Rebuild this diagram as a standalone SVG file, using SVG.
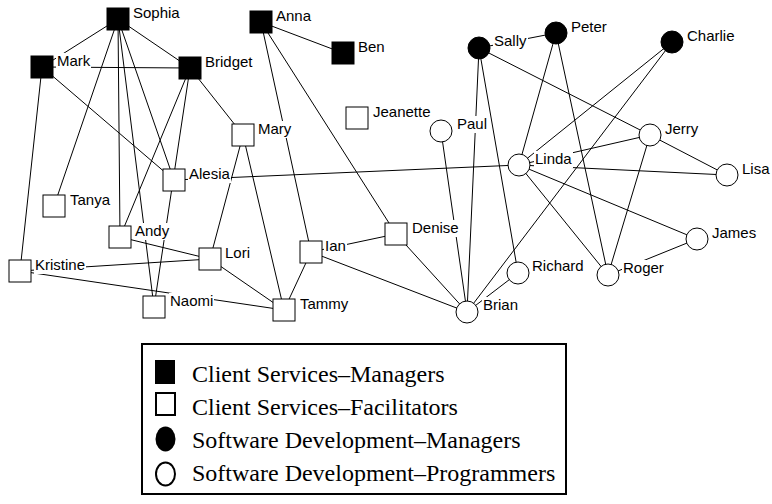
<svg xmlns="http://www.w3.org/2000/svg" width="772" height="504" viewBox="0 0 772 504">
<style>
.e{stroke:#000;stroke-width:1;fill:none}
.sq{fill:#fff;stroke:#000;stroke-width:1}
.sqf{fill:#000;stroke:#000;stroke-width:1}
.ci{fill:#fff;stroke:#000;stroke-width:1}
.cif{fill:#000;stroke:#000;stroke-width:1}
.lb{fill:#fff}
.t{font-family:"Liberation Sans",Arial,sans-serif;font-size:15px;fill:#000}
.lg{font-family:"Liberation Serif","Times New Roman",serif;font-size:24px;fill:#000}
</style>
<rect width="772" height="504" fill="#fff"/>
<g id="edges" class="e">
<line x1="118" y1="19" x2="42" y2="67"/>
<line x1="118" y1="19" x2="190" y2="68"/>
<line x1="118" y1="19" x2="54" y2="206"/>
<line x1="118" y1="19" x2="120" y2="237"/>
<line x1="118" y1="19" x2="154" y2="307"/>
<line x1="118" y1="19" x2="174" y2="180"/>
<line x1="42" y1="67" x2="190" y2="68"/>
<line x1="42" y1="67" x2="20" y2="271"/>
<line x1="42" y1="67" x2="174" y2="180"/>
<line x1="190" y1="68" x2="243" y2="135"/>
<line x1="190" y1="68" x2="120" y2="237"/>
<line x1="190" y1="68" x2="154" y2="307"/>
<line x1="174" y1="180" x2="519" y2="165"/>
<line x1="243" y1="135" x2="210" y2="259"/>
<line x1="243" y1="135" x2="284" y2="310"/>
<line x1="261" y1="22" x2="343" y2="53"/>
<line x1="261" y1="22" x2="311" y2="252"/>
<line x1="261" y1="22" x2="396" y2="234"/>
<line x1="311" y1="252" x2="396" y2="234"/>
<line x1="311" y1="252" x2="284" y2="310"/>
<line x1="311" y1="252" x2="467" y2="312"/>
<line x1="396" y1="234" x2="467" y2="312"/>
<line x1="210" y1="259" x2="284" y2="310"/>
<line x1="210" y1="259" x2="20" y2="271"/>
<line x1="210" y1="259" x2="120" y2="237"/>
<line x1="20" y1="271" x2="284" y2="310"/>
<line x1="479" y1="48" x2="556" y2="33"/>
<line x1="479" y1="48" x2="650" y2="135"/>
<line x1="479" y1="48" x2="467" y2="312"/>
<line x1="479" y1="48" x2="518" y2="273"/>
<line x1="441" y1="131" x2="467" y2="312"/>
<line x1="556" y1="33" x2="519" y2="165"/>
<line x1="556" y1="33" x2="608" y2="275"/>
<line x1="672" y1="42" x2="519" y2="165"/>
<line x1="672" y1="42" x2="467" y2="312"/>
<line x1="650" y1="135" x2="727" y2="175"/>
<line x1="650" y1="135" x2="519" y2="165"/>
<line x1="650" y1="135" x2="608" y2="275"/>
<line x1="519" y1="165" x2="727" y2="175"/>
<line x1="519" y1="165" x2="608" y2="275"/>
<line x1="519" y1="165" x2="697" y2="239"/>
<line x1="697" y1="239" x2="608" y2="275"/>
<line x1="518" y1="273" x2="467" y2="312"/>
</g>
<g id="sophia"><rect class="sqf" x="107" y="8" width="22" height="22"/><rect class="lb" x="132" y="5" width="49" height="17"/><text class="t" x="133" y="18">Sophia</text></g>
<g id="mark"><rect class="sqf" x="31" y="56" width="22" height="22"/><rect class="lb" x="56" y="53" width="35" height="17"/><text class="t" x="57" y="66">Mark</text></g>
<g id="bridget"><rect class="sqf" x="179" y="57" width="22" height="22"/><rect class="lb" x="204" y="54" width="50" height="17"/><text class="t" x="205" y="67">Bridget</text></g>
<g id="anna"><rect class="sqf" x="250" y="11" width="22" height="22"/><rect class="lb" x="275" y="8" width="37" height="17"/><text class="t" x="276" y="21">Anna</text></g>
<g id="ben"><rect class="sqf" x="332" y="42" width="22" height="22"/><rect class="lb" x="357" y="39" width="29" height="17"/><text class="t" x="358" y="52">Ben</text></g>
<g id="mary"><rect class="sq" x="232" y="124" width="22" height="22"/><rect class="lb" x="257" y="121" width="35" height="17"/><text class="t" x="258" y="134">Mary</text></g>
<g id="jeanette"><rect class="sq" x="346" y="107" width="22" height="22"/><rect class="lb" x="372" y="104" width="60" height="17"/><text class="t" x="373" y="117">Jeanette</text></g>
<g id="alesia"><rect class="sq" x="163" y="169" width="22" height="22"/><rect class="lb" x="188" y="166" width="43" height="17"/><text class="t" x="189" y="179">Alesia</text></g>
<g id="tanya"><rect class="sq" x="43" y="195" width="22" height="22"/><rect class="lb" x="69" y="192" width="44" height="17"/><text class="t" x="70" y="205">Tanya</text></g>
<g id="andy"><rect class="sq" x="109" y="226" width="22" height="22"/><rect class="lb" x="134" y="223" width="36" height="17"/><text class="t" x="135" y="236">Andy</text></g>
<g id="lori"><rect class="sq" x="199" y="248" width="22" height="22"/><rect class="lb" x="224" y="245" width="27" height="17"/><text class="t" x="225" y="258">Lori</text></g>
<g id="kristine"><rect class="sq" x="9" y="260" width="22" height="22"/><rect class="lb" x="34" y="257" width="52" height="17"/><text class="t" x="35" y="270">Kristine</text></g>
<g id="naomi"><rect class="sq" x="143" y="296" width="22" height="22"/><rect class="lb" x="169" y="293" width="45" height="17"/><text class="t" x="170" y="306">Naomi</text></g>
<g id="ian"><rect class="sq" x="300" y="241" width="22" height="22"/><rect class="lb" x="324" y="238" width="23" height="17"/><text class="t" x="325" y="251">Ian</text></g>
<g id="denise"><rect class="sq" x="385" y="223" width="22" height="22"/><rect class="lb" x="411" y="220" width="49" height="17"/><text class="t" x="412" y="233">Denise</text></g>
<g id="tammy"><rect class="sq" x="273" y="299" width="22" height="22"/><rect class="lb" x="299" y="296" width="52" height="17"/><text class="t" x="300" y="309">Tammy</text></g>
<g id="paul"><circle class="ci" cx="441" cy="131" r="11"/><rect class="lb" x="456" y="116" width="32" height="17"/><text class="t" x="457" y="129">Paul</text></g>
<g id="sally"><circle class="cif" cx="479" cy="48" r="11"/><rect class="lb" x="493" y="33" width="35" height="17"/><text class="t" x="494" y="46">Sally</text></g>
<g id="peter"><circle class="cif" cx="556" cy="33" r="11"/><rect class="lb" x="570" y="19" width="38" height="17"/><text class="t" x="571" y="32">Peter</text></g>
<g id="charlie"><circle class="cif" cx="672" cy="42" r="11"/><rect class="lb" x="686" y="28" width="50" height="17"/><text class="t" x="687" y="41">Charlie</text></g>
<g id="jerry"><circle class="ci" cx="650" cy="135" r="11"/><rect class="lb" x="664" y="121" width="35" height="17"/><text class="t" x="665" y="134">Jerry</text></g>
<g id="linda"><circle class="ci" cx="519" cy="165" r="11"/><rect class="lb" x="534" y="151" width="39" height="17"/><text class="t" x="535" y="164">Linda</text></g>
<g id="lisa"><circle class="ci" cx="727" cy="175" r="11"/><rect class="lb" x="741" y="161" width="30" height="17"/><text class="t" x="742" y="174">Lisa</text></g>
<g id="james"><circle class="ci" cx="697" cy="239" r="11"/><rect class="lb" x="711" y="225" width="46" height="17"/><text class="t" x="712" y="238">James</text></g>
<g id="richard"><circle class="ci" cx="518" cy="273" r="11"/><rect class="lb" x="531" y="258" width="54" height="17"/><text class="t" x="532" y="271">Richard</text></g>
<g id="roger"><circle class="ci" cx="608" cy="275" r="11"/><rect class="lb" x="622" y="260" width="43" height="17"/><text class="t" x="623" y="273">Roger</text></g>
<g id="brian"><circle class="ci" cx="467" cy="312" r="11"/><rect class="lb" x="482" y="297" width="37" height="17"/><text class="t" x="483" y="310">Brian</text></g>
<g id="legend">
<rect x="142" y="344" width="424" height="150" fill="none" stroke="#000" stroke-width="2"/>
<rect x="155" y="360" width="20" height="24" fill="#000"/>
<rect x="156" y="393" width="19" height="22" fill="none" stroke="#000" stroke-width="2"/>
<ellipse cx="165.5" cy="439" rx="10" ry="12.5" fill="#000"/>
<ellipse cx="165.5" cy="474" rx="9.5" ry="11.5" fill="none" stroke="#000" stroke-width="2"/>
<text class="lg" x="192" y="382">Client Services–Managers</text>
<text class="lg" x="192" y="415">Client Services–Facilitators</text>
<text class="lg" x="192" y="448">Software Development–Managers</text>
<text class="lg" x="192" y="481">Software Development–Programmers</text>
</g>
</svg>
